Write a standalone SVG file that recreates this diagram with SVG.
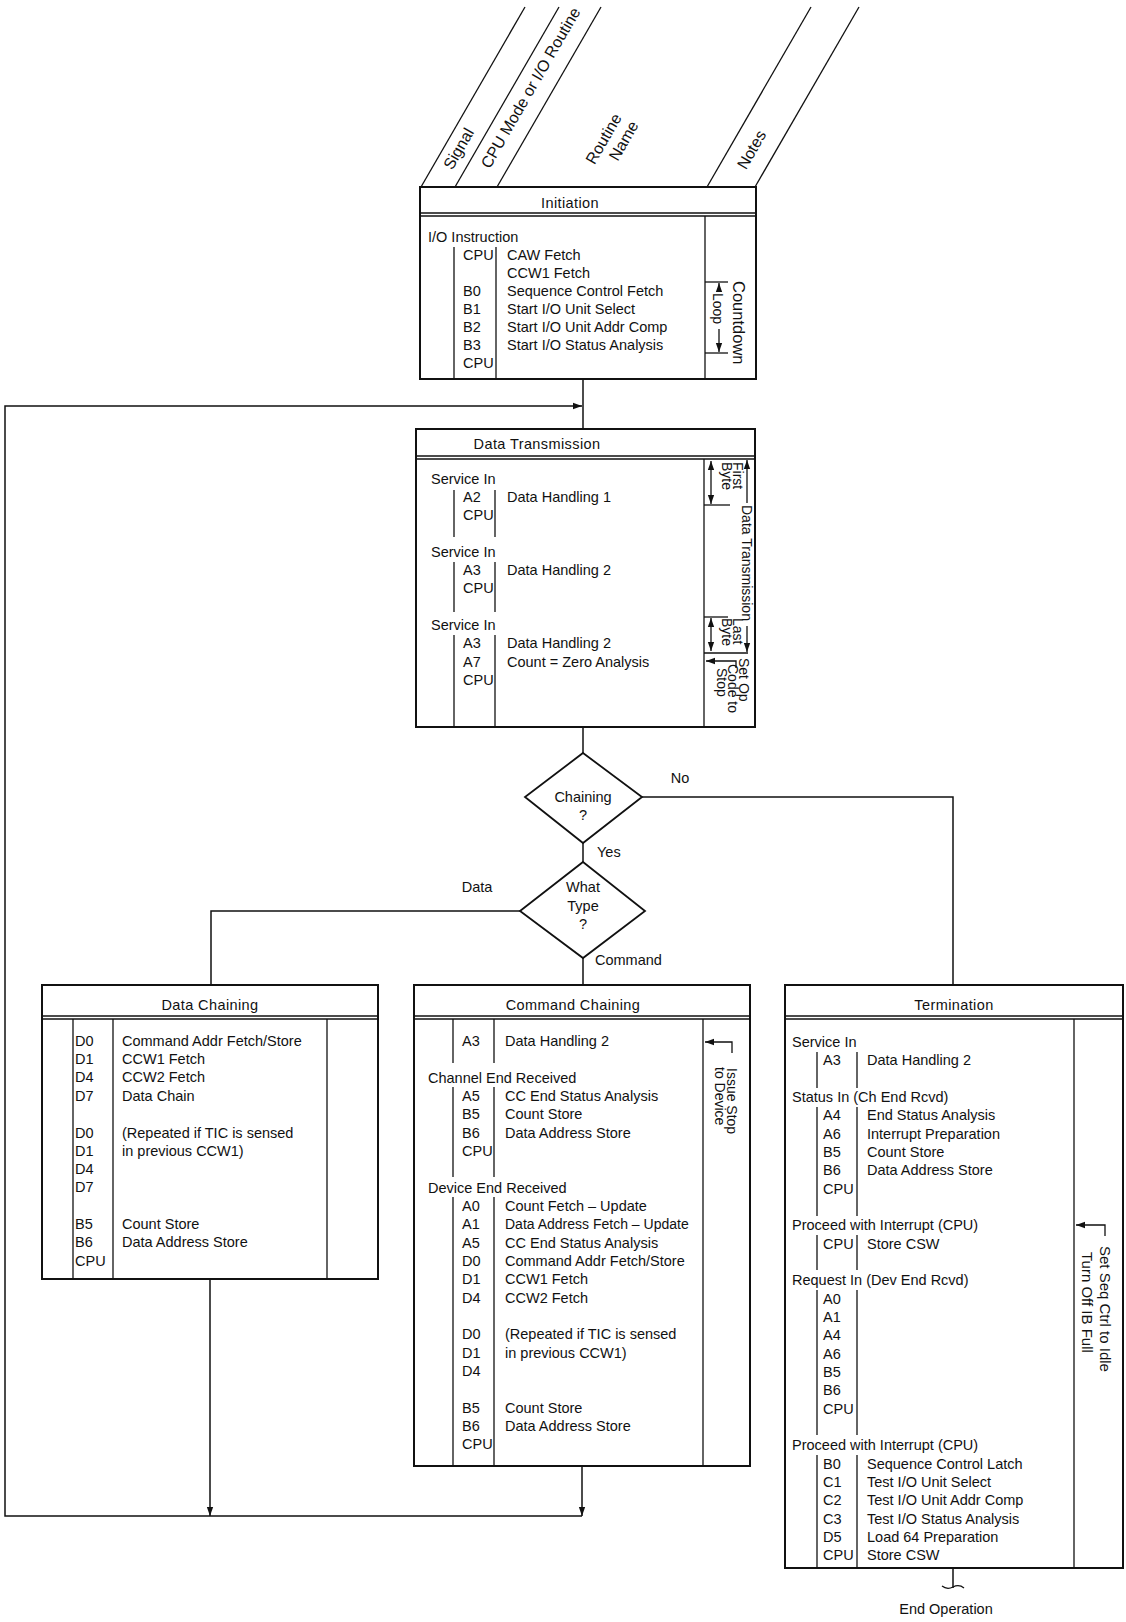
<svg xmlns="http://www.w3.org/2000/svg" width="1126" height="1622" viewBox="0 0 1126 1622">
<defs>
<style>
.box{fill:none;stroke:#111;stroke-width:2}
.ln{fill:none;stroke:#111;stroke-width:1.3}
.dl{fill:none;stroke:#111;stroke-width:1.6}
.cn{fill:none;stroke:#111;stroke-width:1.5}
text{font-family:"Liberation Sans",Arial,sans-serif;font-size:14.5px;fill:#111}
.ti{font-size:14.5px;text-anchor:middle;letter-spacing:0.4px}
.m{text-anchor:middle}
.n{font-size:14px}
.h{font-size:16px;text-anchor:middle}
</style>
<marker id="ah" viewBox="0 0 10 10" refX="10" refY="5" markerWidth="9" markerHeight="9" markerUnits="userSpaceOnUse" orient="auto-start-reverse"><path d="M0,1.5 L10,5 L0,8.5 z" fill="#111"/></marker>
</defs>
<rect x="0" y="0" width="1126" height="1622" fill="#fff"/>

<g id="column-headers">
<line class="ln" x1="421" y1="187" x2="525" y2="7"/>
<line class="ln" x1="455" y1="187" x2="559" y2="7"/>
<line class="ln" x1="497" y1="187" x2="601" y2="7"/>
<line class="ln" x1="707" y1="187" x2="811" y2="7"/>
<line class="ln" x1="755" y1="187" x2="859" y2="7"/>
<text class="h" transform="translate(459,149) rotate(-60)" dy="5">Signal</text>
<text class="h" transform="translate(531,88) rotate(-60)" dy="5">CPU Mode or I/O Routine</text>
<text class="h" transform="translate(604,139) rotate(-60)" dy="5">Routine</text>
<text class="h" transform="translate(624,141) rotate(-60)" dy="5">Name</text>
<text class="h" transform="translate(752,150) rotate(-60)" dy="5">Notes</text>
</g>

<g id="node-initiation">
<rect class="box" x="420" y="187" width="336" height="192"/>
<line class="dl" x1="420" y1="213" x2="756" y2="213"/>
<line class="ln" x1="420" y1="216" x2="756" y2="216"/>
<text class="ti" x="570" y="208">Initiation</text>
<line class="ln" x1="705" y1="216" x2="705" y2="379"/>
<line class="ln" x1="454" y1="247" x2="454" y2="379"/>
<line class="ln" x1="496" y1="247" x2="496" y2="379"/>
<text x="428" y="242">I/O Instruction</text>
<text x="463" y="260">CPU</text>
<text x="463" y="296">B0</text>
<text x="463" y="314">B1</text>
<text x="463" y="332">B2</text>
<text x="463" y="350">B3</text>
<text x="463" y="368">CPU</text>
<text x="507" y="260">CAW Fetch</text>
<text x="507" y="278">CCW1 Fetch</text>
<text x="507" y="296">Sequence Control Fetch</text>
<text x="507" y="314">Start I/O Unit Select</text>
<text x="507" y="332">Start I/O Unit Addr Comp</text>
<text x="507" y="350">Start I/O Status Analysis</text>
<line class="ln" x1="705" y1="282" x2="728" y2="282"/>
<line class="ln" x1="705" y1="353" x2="728" y2="353"/>
<line class="ln" x1="719" y1="291" x2="719" y2="283" marker-end="url(#ah)"/>
<line class="ln" x1="719" y1="329" x2="719" y2="352" marker-end="url(#ah)"/>
<text class="n" transform="translate(713,293) rotate(90)">Loop</text>
<text class="n" transform="translate(733,281) rotate(90)" style="font-size:16.5px">Countdown</text>
</g>

<g id="node-data-transmission">
<rect class="box" x="416" y="429" width="339" height="298"/>
<line class="dl" x1="416" y1="456" x2="755" y2="456"/>
<line class="ln" x1="416" y1="459" x2="755" y2="459"/>
<text class="ti" x="537" y="449">Data Transmission</text>
<line class="ln" x1="704" y1="459" x2="704" y2="727"/>
<line class="ln" x1="454" y1="490" x2="454" y2="537"/>
<line class="ln" x1="495" y1="490" x2="495" y2="537"/>
<line class="ln" x1="454" y1="562" x2="454" y2="612"/>
<line class="ln" x1="495" y1="562" x2="495" y2="612"/>
<line class="ln" x1="454" y1="635" x2="454" y2="727"/>
<line class="ln" x1="495" y1="635" x2="495" y2="727"/>
<text x="431" y="484">Service In</text>
<text x="463" y="502">A2</text>
<text x="507" y="502">Data Handling 1</text>
<text x="463" y="520">CPU</text>
<text x="431" y="557">Service In</text>
<text x="463" y="575">A3</text>
<text x="507" y="575">Data Handling 2</text>
<text x="463" y="593">CPU</text>
<text x="431" y="630">Service In</text>
<text x="463" y="648">A3</text>
<text x="507" y="648">Data Handling 2</text>
<text x="463" y="667">A7</text>
<text x="507" y="667">Count = Zero Analysis</text>
<text x="463" y="685">CPU</text>
<line class="ln" x1="704" y1="505" x2="730" y2="505"/>
<line class="ln" x1="711" y1="461" x2="711" y2="504" marker-start="url(#ah)" marker-end="url(#ah)"/>
<text class="n" transform="translate(733,462) rotate(90)">First</text>
<text class="n" transform="translate(722,462) rotate(90)">Byte</text>
<line class="ln" x1="747" y1="503" x2="747" y2="460" marker-end="url(#ah)"/>
<text class="n" transform="translate(742,505) rotate(90)">Data Transmission</text>
<line class="ln" x1="747" y1="626" x2="747" y2="652" marker-end="url(#ah)"/>
<line class="ln" x1="704" y1="617" x2="728" y2="617"/>
<line class="ln" x1="711" y1="618" x2="711" y2="651" marker-start="url(#ah)" marker-end="url(#ah)"/>
<text class="n" transform="translate(733,618) rotate(90)">Last</text>
<text class="n" transform="translate(722,618) rotate(90)">Byte</text>
<line class="ln" x1="704" y1="653" x2="748" y2="653"/>
<path class="ln" d="M736 668 L736 661 L706 661" marker-end="url(#ah)"/>
<text class="n" transform="translate(739,658) rotate(90)">Set Op</text>
<text class="n" transform="translate(728,664) rotate(90)">Code to</text>
<text class="n" transform="translate(717,668) rotate(90)">Stop</text>
</g>

<g id="node-chaining">
<polygon class="box" points="583,753 642,797 583,843 525,797" style="stroke-width:1.8"/>
<text class="m" x="583" y="802">Chaining</text>
<text class="m" x="583" y="820">?</text>
</g>

<g id="node-what-type">
<polygon class="box" points="583,862 645,911 583,958 520,911" style="stroke-width:1.8"/>
<text class="m" x="583" y="892">What</text>
<text class="m" x="583" y="911">Type</text>
<text class="m" x="583" y="929">?</text>
</g>

<g id="node-data-chaining">
<rect class="box" x="42" y="985" width="336" height="294"/>
<line class="dl" x1="42" y1="1016" x2="378" y2="1016"/>
<line class="ln" x1="42" y1="1019" x2="378" y2="1019"/>
<text class="ti" x="210" y="1010">Data Chaining</text>
<line class="ln" x1="73" y1="1019" x2="73" y2="1279"/>
<line class="ln" x1="113" y1="1019" x2="113" y2="1279"/>
<line class="ln" x1="327" y1="1019" x2="327" y2="1279"/>
<text x="75" y="1046">D0</text><text x="122" y="1046">Command Addr Fetch/Store</text>
<text x="75" y="1064">D1</text><text x="122" y="1064">CCW1 Fetch</text>
<text x="75" y="1082">D4</text><text x="122" y="1082">CCW2 Fetch</text>
<text x="75" y="1101">D7</text><text x="122" y="1101">Data Chain</text>
<text x="75" y="1138">D0</text><text x="122" y="1138">(Repeated if TIC is sensed</text>
<text x="75" y="1156">D1</text><text x="122" y="1156">in previous CCW1)</text>
<text x="75" y="1174">D4</text>
<text x="75" y="1192">D7</text>
<text x="75" y="1229">B5</text><text x="122" y="1229">Count Store</text>
<text x="75" y="1247">B6</text><text x="122" y="1247">Data Address Store</text>
<text x="75" y="1266">CPU</text>
</g>

<g id="node-command-chaining">
<rect class="box" x="414" y="985" width="336" height="481"/>
<line class="dl" x1="414" y1="1016" x2="750" y2="1016"/>
<line class="ln" x1="414" y1="1019" x2="750" y2="1019"/>
<text class="ti" x="573" y="1010">Command Chaining</text>
<line class="ln" x1="703" y1="1019" x2="703" y2="1466"/>
<line class="ln" x1="453" y1="1019" x2="453" y2="1063"/>
<line class="ln" x1="494" y1="1019" x2="494" y2="1063"/>
<line class="ln" x1="453" y1="1087" x2="453" y2="1177"/>
<line class="ln" x1="494" y1="1087" x2="494" y2="1177"/>
<line class="ln" x1="453" y1="1197" x2="453" y2="1466"/>
<line class="ln" x1="494" y1="1197" x2="494" y2="1466"/>
<text x="462" y="1046">A3</text><text x="505" y="1046">Data Handling 2</text>
<text x="428" y="1083">Channel End Received</text>
<text x="462" y="1101">A5</text><text x="505" y="1101">CC End Status Analysis</text>
<text x="462" y="1119">B5</text><text x="505" y="1119">Count Store</text>
<text x="462" y="1138">B6</text><text x="505" y="1138">Data Address Store</text>
<text x="462" y="1156">CPU</text>
<text x="428" y="1193">Device End Received</text>
<text x="462" y="1211">A0</text><text x="505" y="1211">Count Fetch – Update</text>
<text x="462" y="1229">A1</text><text x="505" y="1229" style="font-size:14px">Data Address Fetch – Update</text>
<text x="462" y="1248">A5</text><text x="505" y="1248">CC End Status Analysis</text>
<text x="462" y="1266">D0</text><text x="505" y="1266">Command Addr Fetch/Store</text>
<text x="462" y="1284">D1</text><text x="505" y="1284">CCW1 Fetch</text>
<text x="462" y="1303">D4</text><text x="505" y="1303">CCW2 Fetch</text>
<text x="462" y="1339">D0</text><text x="505" y="1339">(Repeated if TIC is sensed</text>
<text x="462" y="1358">D1</text><text x="505" y="1358">in previous CCW1)</text>
<text x="462" y="1376">D4</text>
<text x="462" y="1413">B5</text><text x="505" y="1413">Count Store</text>
<text x="462" y="1431">B6</text><text x="505" y="1431">Data Address Store</text>
<text x="462" y="1449">CPU</text>
<path class="ln" d="M732 1053 L732 1042 L705 1042" marker-end="url(#ah)"/>
<text class="n" transform="translate(727,1068) rotate(90)">Issue Stop</text>
<text class="n" transform="translate(715,1067) rotate(90)">to Device</text>
</g>

<g id="node-termination">
<rect class="box" x="785" y="985" width="338" height="583"/>
<line class="dl" x1="785" y1="1016" x2="1123" y2="1016"/>
<line class="ln" x1="785" y1="1019" x2="1123" y2="1019"/>
<text class="ti" x="954" y="1010">Termination</text>
<line class="ln" x1="1074" y1="1019" x2="1074" y2="1568"/>
<line class="ln" x1="817" y1="1052" x2="817" y2="1088"/>
<line class="ln" x1="857" y1="1052" x2="857" y2="1088"/>
<line class="ln" x1="817" y1="1107" x2="817" y2="1216"/>
<line class="ln" x1="857" y1="1107" x2="857" y2="1216"/>
<line class="ln" x1="817" y1="1235" x2="817" y2="1270"/>
<line class="ln" x1="857" y1="1235" x2="857" y2="1270"/>
<line class="ln" x1="817" y1="1290" x2="817" y2="1435"/>
<line class="ln" x1="857" y1="1290" x2="857" y2="1435"/>
<line class="ln" x1="817" y1="1455" x2="817" y2="1568"/>
<line class="ln" x1="857" y1="1455" x2="857" y2="1568"/>
<text x="792" y="1047">Service In</text>
<text x="823" y="1065">A3</text><text x="867" y="1065">Data Handling 2</text>
<text x="792" y="1102">Status In (Ch End Rcvd)</text>
<text x="823" y="1120">A4</text><text x="867" y="1120">End Status Analysis</text>
<text x="823" y="1139">A6</text><text x="867" y="1139">Interrupt Preparation</text>
<text x="823" y="1157">B5</text><text x="867" y="1157">Count Store</text>
<text x="823" y="1175">B6</text><text x="867" y="1175">Data Address Store</text>
<text x="823" y="1194">CPU</text>
<text x="792" y="1230">Proceed with Interrupt (CPU)</text>
<text x="823" y="1249">CPU</text><text x="867" y="1249">Store CSW</text>
<text x="792" y="1285">Request In (Dev End Rcvd)</text>
<text x="823" y="1304">A0</text>
<text x="823" y="1322">A1</text>
<text x="823" y="1340">A4</text>
<text x="823" y="1359">A6</text>
<text x="823" y="1377">B5</text>
<text x="823" y="1395">B6</text>
<text x="823" y="1414">CPU</text>
<text x="792" y="1450">Proceed with Interrupt (CPU)</text>
<text x="823" y="1469">B0</text><text x="867" y="1469">Sequence Control Latch</text>
<text x="823" y="1487">C1</text><text x="867" y="1487">Test I/O Unit Select</text>
<text x="823" y="1505">C2</text><text x="867" y="1505">Test I/O Unit Addr Comp</text>
<text x="823" y="1524">C3</text><text x="867" y="1524">Test I/O Status Analysis</text>
<text x="823" y="1542">D5</text><text x="867" y="1542">Load 64 Preparation</text>
<text x="823" y="1560">CPU</text><text x="867" y="1560">Store CSW</text>
<path class="ln" d="M1105 1236 L1105 1225 L1076 1225" marker-end="url(#ah)"/>
<text class="n" transform="translate(1100,1246) rotate(90)" style="font-size:15px">Set Seq Ctrl to Idle</text>
<text class="n" transform="translate(1082,1252) rotate(90)" style="font-size:15px">Turn Off IB Full</text>
</g>

<g id="node-end-operation">
<path class="ln" d="M942 1586 q5 4 11 1 q6 -3 11 1"/>
<text class="m" x="946" y="1614">End Operation</text>
</g>

<g id="connectors">
<line class="cn" x1="583" y1="379" x2="583" y2="429"/>
<path class="cn" d="M582 1516 L5 1516 L5 406 L582 406" marker-end="url(#ah)"/>
<line class="cn" x1="210" y1="1279" x2="210" y2="1516" marker-end="url(#ah)"/>
<line class="cn" x1="582" y1="1466" x2="582" y2="1516" marker-end="url(#ah)"/>
<line class="cn" x1="583" y1="727" x2="583" y2="753"/>
<path class="cn" d="M642 797 L953 797 L953 985"/>
<line class="cn" x1="583" y1="843" x2="583" y2="862"/>
<path class="cn" d="M520 911 L211 911 L211 985"/>
<line class="cn" x1="583" y1="958" x2="583" y2="985"/>
<line class="cn" x1="953" y1="1568" x2="953" y2="1588"/>
<text x="680" y="783" class="m">No</text>
<text x="597" y="857">Yes</text>
<text x="477" y="892" class="m">Data</text>
<text x="595" y="965">Command</text>
</g>
</svg>
